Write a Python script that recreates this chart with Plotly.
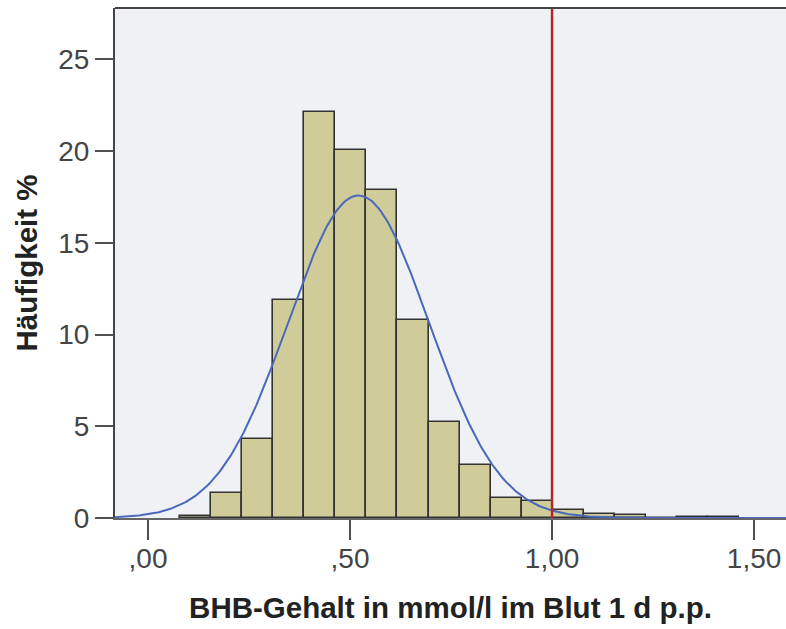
import numpy as np
import plotly.graph_objects as go

# Histogram data (percent per bin)
bin_start = 0.079
bin_width = 0.0769
percent = [0.13, 1.35, 4.3, 11.9, 22.15, 20.05, 17.9, 10.77, 5.25, 2.9,
           1.07, 0.95, 0.41, 0.23, 0.14, 0.0, 0.08, 0.08]

# Fitted normal curve parameters
mean_val = 0.521
sd_val = 0.1745

# Reference line
ref_x = 1.0

x_tickvals = [0.0, 0.5, 1.0, 1.5]
x_ticktext = [",00", ",50", "1,00", "1,50"]
y_tickvals = [0, 5, 10, 15, 20, 25]

centers = [bin_start + bin_width * (i + 0.5) for i in range(len(percent))]

xs = np.linspace(-0.0817, 1.579, 400)
ys = 100 * bin_width / (sd_val * np.sqrt(2 * np.pi)) * np.exp(-0.5 * ((xs - mean_val) / sd_val) ** 2)

fig = go.Figure()
fig.add_trace(go.Bar(
    x=centers, y=percent, width=[bin_width] * len(percent),
    marker=dict(color="#D0CC99", line=dict(color="#333333", width=1.6)),
    showlegend=False,
))
fig.add_trace(go.Scatter(
    x=xs, y=ys, mode="lines",
    line=dict(color="#4A68BC", width=2),
    showlegend=False,
))
fig.add_shape(type="line", x0=ref_x, x1=ref_x, y0=0, y1=1, xref="x", yref="paper",
              line=dict(color="#B5262B", width=2.5))
# top frame line of the plot area
fig.add_shape(type="line", x0=0, x1=1, y0=1, y1=1, xref="paper", yref="paper",
              line=dict(color="#444444", width=2))

fig.update_layout(
    width=786, height=629,
    margin=dict(l=115, r=0, t=8, b=111),
    paper_bgcolor="white",
    plot_bgcolor="#F0F1F4",
    font=dict(family="Liberation Sans, Arial, sans-serif", color="#333333"),
    bargap=0,
)
fig.update_xaxes(
    range=[-0.0817, 1.579],
    tickvals=x_tickvals, ticktext=x_ticktext,
    ticks="outside", ticklen=20, tickwidth=2, tickcolor="#505050",
    tickfont=dict(size=28, color="#444444"),
    ticklabelstandoff=-5,
    showgrid=False, zeroline=False,
    showline=True, linecolor="#666666", linewidth=1.5,
    title=dict(text="<b>BHB-Gehalt in mmol/l im Blut 1 d p.p.</b>",
               font=dict(size=29.5, color="#222222"), standoff=24),
)
fig.update_yaxes(
    range=[0, 27.8],
    tickvals=y_tickvals,
    ticks="outside", ticklen=18, tickwidth=2, tickcolor="#505050",
    tickfont=dict(size=28, color="#444444"),
    showgrid=False, zeroline=False,
    showline=True, linecolor="#444444", linewidth=2,
    title=dict(text="<b>Häufigkeit %</b>", font=dict(size=29.5, color="#222222"), standoff=12),
)

fig.write_html("out.html")
